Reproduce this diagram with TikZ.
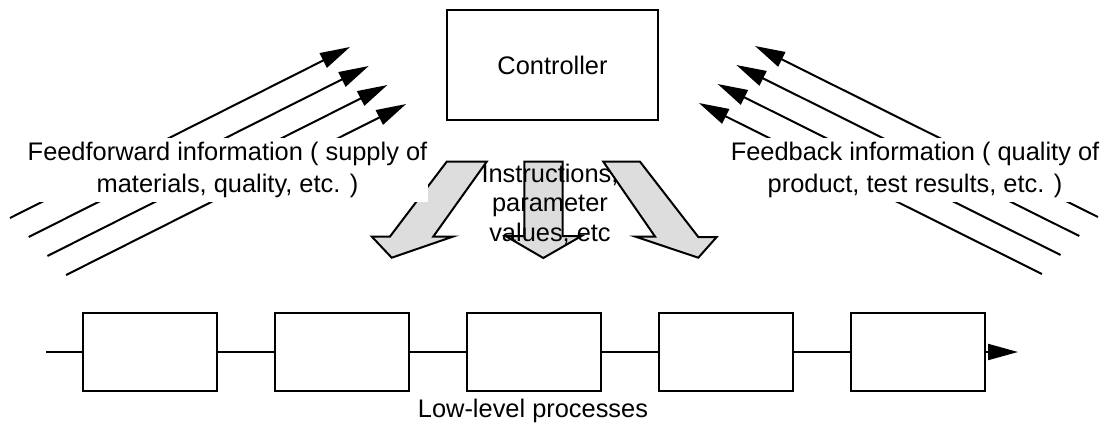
\documentclass[tikz,border=0pt]{standalone}
\usepackage{fontspec}
\setmainfont{Liberation Sans}
\usepackage{tikz}
\usetikzlibrary{positioning, arrows.meta}
\definecolor{arrowfill}{RGB}{221,221,221}

\begin{document}
\begin{tikzpicture}[
    x=0.5pt, y=-0.5pt,
    every node/.style={font=\fontsize{12.7}{15.8}\selectfont, align=center},
    ctrl/.style ={draw, line width=1pt, minimum width=105.5pt, minimum height=55pt},
    proc/.style ={draw, line width=1pt, minimum width=67pt, minimum height=39pt, inner sep=0pt},
    info/.style ={fill=white, inner xsep=0.5pt, inner ysep=2pt},
    flow/.style ={-{Triangle[length=15pt, width=8pt]}, line width=1pt},
    blockarrow/.style={draw, fill=arrowfill, line width=1pt, line join=miter}
]
\useasboundingbox (0,0) rectangle (1107,434);

% Information streams (left: feedforward, right: feedback)
\foreach \i in {0,...,3}{
  \coordinate (ffs\i) at (10+18.7*\i, 218+19*\i);
  \coordinate (ffe\i) at (350+18.7*\i, 47+19*\i);
  \draw[flow] (ffs\i) -- (ffe\i);
  \coordinate (fbs\i) at (1098-18.7*\i, 217+19*\i);
  \coordinate (fbe\i) at (755-18.7*\i, 46+19*\i);
  \draw[flow] (fbs\i) -- (fbe\i);
}

% Instruction arrows out of the controller
\draw[blockarrow] (446.7,161.7) -- (486.7,161.7) -- (433.3,236.5) -- (453.3,236.5)
  -- (391.7,257.7) -- (371.7,236.5) -- (390,236.5) -- cycle;
\draw[blockarrow] (524.3,161.7) -- (562.7,161.7) -- (562.7,236) -- (581.5,236)
  -- (543.3,258) -- (505.5,236) -- (524.3,236) -- cycle;
\draw[blockarrow] (603.3,161.7) -- (640,161.7) -- (698.3,237) -- (716.7,237)
  -- (698.3,257.7) -- (635,236.5) -- (655,236.5) -- cycle;

% Labels over the streams
\node[info] (ffinfo) at (227.5,170) {Feedforward information ( supply of\\materials, quality, etc. )};
\node[info] (fbinfo) at (915,170) {Feedback information ( quality of\\product, test results, etc. )};

% Controller
\node[ctrl] (ctrl) at (552.5,65) {Controller};
\node[font=\fontsize{12.7}{14.75}\selectfont] (instr) at (550,204) {Instructions,\\parameter\\values, etc};

% Row of low-level processes
\node[proc] (p1) at (150,352) {};
\node[proc, right=28pt of p1] (p2) {};
\node[proc, right=28pt of p2] (p3) {};
\node[proc, right=28pt of p3] (p4) {};
\node[proc, right=28pt of p4] (p5) {};
\coordinate (in)  at (46,352);
\coordinate (out) at (1018,352);
\node (lowlabel) at (533,411) {Low-level processes};

% Flow through the processes
\draw[line width=1pt] (in) -- (p1);
\draw[line width=1pt] (p1) -- (p2);
\draw[line width=1pt] (p2) -- (p3);
\draw[line width=1pt] (p3) -- (p4);
\draw[line width=1pt] (p4) -- (p5);
\draw[flow] (p5) -- (out);

\end{tikzpicture}
\end{document}
